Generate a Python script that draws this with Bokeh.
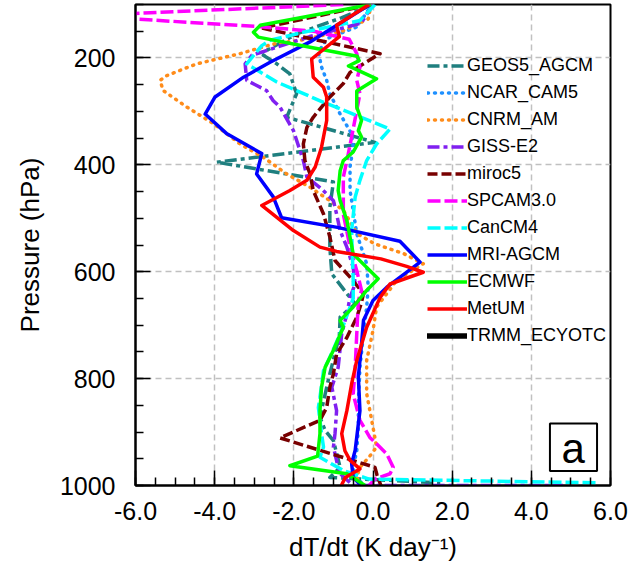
from bokeh.plotting import figure
from bokeh.models import (Range1d, FixedTicker, Legend, LegendItem, Label,
                          BoxAnnotation, PrintfTickFormatter)
from bokeh.embed import file_html
from bokeh.resources import INLINE

# ---------------- data (dT/dt in K/day vs pressure in hPa) ----------------
p_geos5 = [100, 125, 155, 186, 195, 211, 230, 267, 311, 358, 395, 432, 479, 554, 604, 641, 660, 685, 720, 803, 872, 897, 916, 966, 985, 995]
x_geos5 = [0.0, -0.8, -1.93, -2.69, -2.77, -2.43, -2.1, -1.93, -2.18, 0.05, -3.95, -1.0, -1.09, -1.09, -1.04, -0.66, -0.45, -0.83, -0.85, -1.13, -1.34, -1.21, -1.0, -0.83, -1.09, 1.7]

p_ncar = [100, 142, 164, 189, 217, 242, 267, 305, 342, 367, 404, 448, 467, 529, 585, 629, 666, 716, 779, 841, 891, 935, 966, 985, 1000]
x_ncar = [-0.02, -0.41, -1.17, -1.38, -1.3, -1.17, -1.09, -0.83, -0.54, -0.5, -0.58, -0.58, -0.54, -0.41, -0.16, -0.12, -0.16, -0.24, -0.33, -0.37, -0.37, -0.41, -0.5, -0.45, -0.2]

p_cnrm = [100, 127, 149, 166, 174, 192, 211, 233, 242, 261, 292, 323, 361, 386, 417, 442, 467, 485, 529, 548, 566, 585, 616, 641, 666, 710, 766, 828, 891, 928, 945, 966, 985, 1000]
x_cnrm = [-0.05, -0.12, -0.75, -1.76, -2.52, -3.36, -4.45, -5.21, -5.38, -5.3, -4.7, -4.03, -3.36, -2.77, -2.18, -1.59, -1.09, -0.75, -0.4, 0.05, 0.77, 1.27, 0.6, 0.35, 0.09, 0.0, -0.16, -0.16, 0.0, 0.09, -0.08, -0.33, -0.41, -0.3]

p_giss = [100, 135, 160, 195, 211, 242, 261, 280, 292, 336, 354, 392, 423, 445, 467, 492, 523, 554, 592, 623, 648, 679, 716, 779, 816, 860, 903, 928, 966, 980, 1000, 1000]
x_giss = [0.0, -0.3, -1.6, -3.06, -3.23, -3.19, -2.69, -2.52, -2.35, -2.01, -1.93, -1.76, -1.67, -1.3, -1.0, -0.92, -0.83, -0.66, -0.5, -0.45, -0.58, -0.66, -0.79, -0.88, -1.04, -0.92, -0.96, -1.0, -0.88, -0.8, -0.5, 4.8]

p_miroc = [100, 144, 192, 211, 227, 248, 273, 311, 330, 361, 392, 417, 448, 492, 535, 579, 610, 641, 660, 685, 723, 754, 791, 816, 854, 878, 911, 966, 980, 1000]
x_miroc = [-0.05, -2.81, 0.18, -0.24, -0.58, -0.75, -1.09, -1.51, -1.67, -1.76, -1.72, -1.59, -1.51, -1.25, -1.09, -0.96, -0.58, -0.24, -0.3, -0.41, -0.66, -0.92, -1.0, -1.09, -1.17, -1.34, -2.35, 0.05, 0.1, 0.2]

p_spcam = [100, 121, 141, 150, 165, 192, 217, 242, 267, 298, 348, 392, 423, 492, 554, 598, 635, 654, 716, 779, 829, 878, 910, 922, 941, 966, 978, 988, 1000]
x_spcam = [-0.75, -7.4, -2.94, -1.5, -0.6, -0.41, -0.33, -0.41, -0.33, -0.41, -0.54, -0.66, -0.75, -0.75, -0.58, -0.41, -0.29, -0.37, -0.41, -0.45, -0.5, -0.33, -0.08, 0.09, 0.35, 0.51, 0.43, 0.05, -0.1]

p_can = [100, 130, 152, 167, 177, 211, 245, 283, 305, 333, 361, 392, 429, 460, 523, 616, 650, 716, 760, 785, 835, 854, 903, 928, 947, 972, 988, 995]
x_can = [0.05, -0.33, -1.76, -2.6, -2.81, -3.19, -2.43, -1.25, -0.5, 0.43, 0.09, -0.16, -0.33, -0.45, -0.54, -0.5, -0.5, -0.83, -1.09, -1.25, -1.34, -1.38, -1.3, -1.25, -1.34, -0.75, -0.1, 5.7]

p_mri = [100, 170, 208, 236, 273, 305, 342, 379, 417, 460, 499, 517, 543, 582, 629, 654, 691, 735, 797, 860, 934, 959, 985, 1000]
x_mri = [-0.08, -1.59, -2.6, -3.27, -3.99, -4.24, -3.69, -2.81, -2.94, -2.52, -2.31, -0.9, 0.68, 1.19, 0.35, 0.0, -0.24, -0.29, -0.37, -0.33, -0.45, -0.54, -0.5, -0.3]

p_ecm = [100, 139, 152, 161, 180, 197, 205, 215, 239, 262, 292, 317, 336, 348, 376, 392, 411, 448, 467, 504, 567, 613, 635, 666, 691, 704, 747, 779, 816, 860, 903, 945, 963, 978, 1000]
x_ecm = [-0.05, -2.85, -3.02, -2.9, -1.59, -0.4, -0.35, -0.62, 0.09, -0.41, -0.41, -0.29, -0.37, -0.29, -0.5, -0.75, -0.83, -0.88, -0.83, -0.66, -0.5, 0.13, -0.16, -0.5, -0.83, -0.75, -1.0, -1.21, -1.3, -1.34, -1.34, -1.4, -2.1, -0.66, -0.2]

p_metum = [100, 139, 160, 202, 236, 255, 273, 317, 367, 404, 429, 448, 476, 523, 554, 562, 576, 590, 601, 623, 648, 704, 766, 810, 860, 903, 935, 953, 969, 985, 1000]
x_metum = [-0.1, -0.92, -0.85, -1.55, -1.51, -1.25, -1.17, -1.17, -1.3, -1.46, -1.67, -2.1, -2.81, -2.01, -1.34, -0.92, 0.2, 0.85, 1.27, 0.43, 0.18, -0.16, -0.41, -0.54, -0.66, -0.79, -0.71, -0.58, -0.33, -0.7, -0.8]

# observation series: no values drawn inside the panel (legend entry only)
p_trmm = [float("nan")]
x_trmm = [float("nan")]

model_names = ["GEOS5_AGCM", "NCAR_CAM5", "CNRM_AM", "GISS-E2", "miroc5", "SPCAM3.0",
               "CanCM4", "MRI-AGCM", "ECMWF", "MetUM", "TRMM_ECYOTC"]
x_ticks = [-6, -4, -2, 0, 2, 4, 6]
y_ticks = [200, 400, 600, 800, 1000]

# ---------------- figure ----------------
FONT = "Liberation Sans"
fig = figure(width=629, height=574, output_backend="svg", toolbar_location=None,
             x_range=Range1d(-6, 6), y_range=Range1d(1000, 100),
             min_border_left=135, min_border_right=19, min_border_top=4,
             min_border_bottom=89)
fig.background_fill_color = "white"
fig.border_fill_color = "white"
fig.outline_line_color = "black"
fig.outline_line_width = 2

fig.xaxis.ticker = FixedTicker(ticks=x_ticks, minor_ticks=[v / 2 for v in range(-12, 13)])
fig.yaxis.ticker = FixedTicker(ticks=y_ticks, minor_ticks=list(range(100, 1001, 50)))
fig.xaxis.formatter = PrintfTickFormatter(format="%.1f")

for ax in (fig.xaxis[0], fig.yaxis[0]):
    ax.major_tick_in = 15
    ax.major_tick_out = 0
    ax.minor_tick_in = 8
    ax.minor_tick_out = 0
    ax.major_tick_line_width = 1.5
    ax.minor_tick_line_width = 1.5
    ax.axis_line_width = 2
    ax.major_label_text_font = FONT
    ax.major_label_text_font_size = "25px"
    ax.major_label_text_color = "black"
    ax.axis_label_text_font = FONT
    ax.axis_label_text_font_size = "26px"
    ax.axis_label_text_font_style = "normal"
    ax.axis_label_text_color = "black"

fig.xaxis.major_label_standoff = 16
fig.yaxis.major_label_standoff = 20
fig.xaxis.axis_label = "dT/dt (K day\u207b\u00b9)"
fig.yaxis.axis_label = "Pressure (hPa)"
fig.xaxis.axis_label_standoff = 9
fig.yaxis.axis_label_standoff = 12

for g in (fig.xgrid[0], fig.ygrid[0]):
    g.grid_line_color = "#c0c0c0"
    g.grid_line_dash = "6 4"
    g.grid_line_width = 1.5

# (x, p, colour, dash, width, cap)
series = [
    (x_geos5, p_geos5, "#1f7f7f", "12 4 4 4", 3.5, "butt"),
    (x_ncar, p_ncar, "#1e90ff", "1 6", 3.5, "round"),
    (x_cnrm, p_cnrm, "#ff8c1a", "1 6", 3.5, "round"),
    (x_giss, p_giss, "#8020f0", "12 4 4 4", 3.5, "butt"),
    (x_miroc, p_miroc, "#780000", "10 4", 3.5, "butt"),
    (x_spcam, p_spcam, "#ff00ff", "13 4", 3.5, "butt"),
    (x_can, p_can, "#00ffff", "13 4", 3.5, "butt"),
    (x_mri, p_mri, "#0000ff", "solid", 3.5, "butt"),
    (x_ecm, p_ecm, "#00ff00", "solid", 3.5, "butt"),
    (x_metum, p_metum, "#ff0000", "solid", 3.5, "butt"),
    (x_trmm, p_trmm, "#000000", "solid", 5.5, "round"),
]

items = []
for name, (xs, ps, col, dash, lw, cap) in zip(model_names, series):
    r = fig.line(x=xs, y=ps, line_color=col, line_width=lw, line_dash=dash,
                 line_join="round", line_cap=cap)
    items.append(LegendItem(label=name, renderers=[r]))

legend = Legend(items=items, location=(292, 136),
                glyph_width=40, glyph_height=27, label_height=27,
                label_standoff=0, spacing=0, padding=0, margin=0,
                border_line_color=None, background_fill_alpha=0,
                label_text_font=FONT, label_text_font_size="18px",
                label_text_color="black")
fig.add_layout(legend)

# panel tag "a"
fig.add_layout(BoxAnnotation(left=4.47, right=5.66, top=884, bottom=973,
                             fill_alpha=0, line_color="black", line_alpha=1.0,
                             line_width=2))
fig.add_layout(Label(x=5.06, y=931, text="a", text_align="center",
                     text_baseline="alphabetic", text_font=FONT,
                     text_font_size="42px", text_color="black"))

open("out.html", "w").write(file_html(fig, INLINE))
